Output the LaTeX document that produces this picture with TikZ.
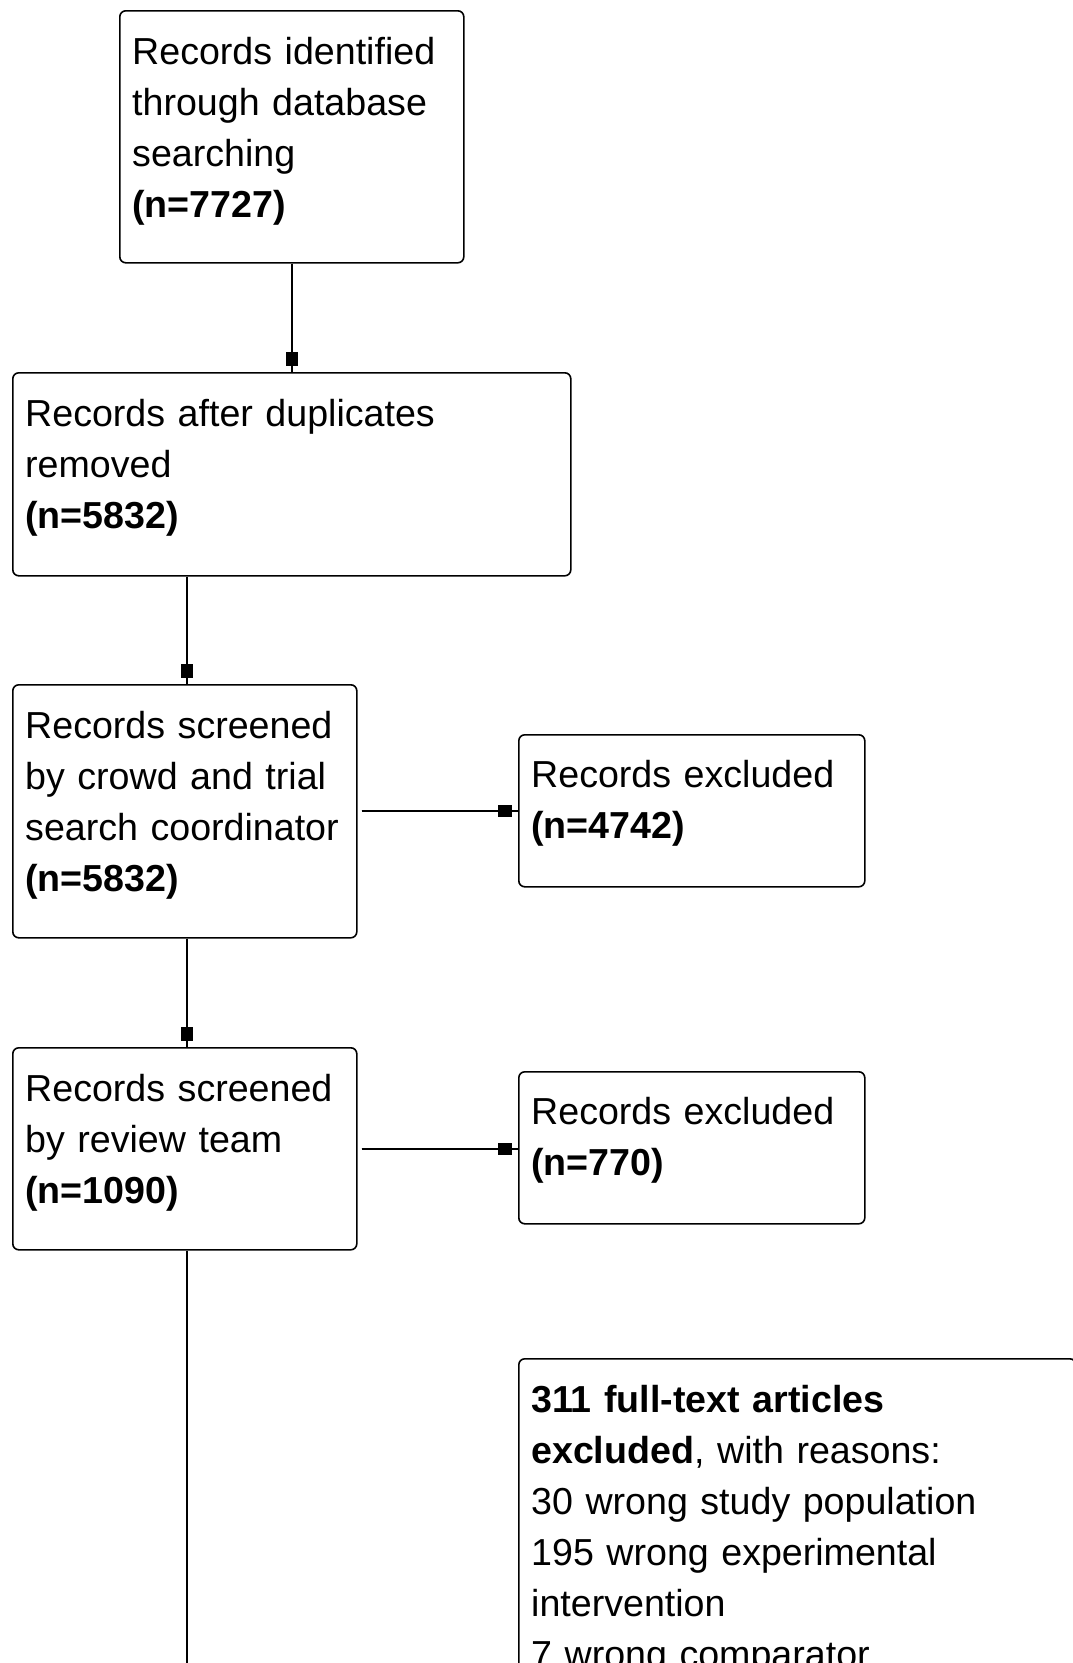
\documentclass[tikz,border=0pt]{standalone}
\usepackage{fontspec}
\setmainfont{Liberation Sans}
\usetikzlibrary{arrows.meta,calc}
\begin{document}
\begin{tikzpicture}[x=1pt,y=-1pt,
  box/.style={draw=black, line width=1.6pt, rounded corners=6pt, anchor=north west, inner sep=0pt},
  txt/.style={anchor=base west, inner sep=0pt, align=left, text width=600pt, font=\fontsize{37.6}{51}\selectfont, text=black},
  conn/.style={line width=1.8pt, draw=black, -{Rectangle[length=14pt,width=12pt,sep=6pt]}, postaction={draw, -}},
  plain/.style={line width=1.8pt, draw=black}
]
\useasboundingbox (0,0) rectangle (1073,1663);
\clip (0,0) rectangle (1073,1663);

\node[box, minimum width=344pt, minimum height=252pt] (b1) at (119,10) {};
\node[txt] (t1) at ($(b1.north west)+(13,54)$) {Records identified\\through database\\searching\\{\bfseries (n=7727)}};

\node[box, minimum width=558pt, minimum height=203pt] (b2) at (12,372) {};
\node[txt] (t2) at ($(b2.north west)+(13,54)$) {Records after duplicates\\removed\\{\bfseries (n=5832)}};

\node[box, minimum width=344pt, minimum height=253pt] (b3) at (12,684) {};
\node[txt] (t3) at ($(b3.north west)+(13,54)$) {Records screened\\by crowd and trial\\search coordinator\\{\bfseries (n=5832)}};

\node[box, minimum width=346pt, minimum height=152pt] (r1) at (518,734) {};
\node[txt] (tr1) at ($(r1.north west)+(13,53)$) {Records excluded\\{\bfseries (n=4742)}};

\node[box, minimum width=344pt, minimum height=202pt] (b4) at (12,1047) {};
\node[txt] (t4) at ($(b4.north west)+(13,54)$) {Records screened\\by review team\\{\bfseries (n=1090)}};

\node[box, minimum width=346pt, minimum height=152pt] (r2) at (518,1071) {};
\node[txt] (tr2) at ($(r2.north west)+(13,53)$) {Records excluded\\{\bfseries (n=770)}};

\node[box, minimum width=557pt, minimum height=420pt] (r3) at (518,1358) {};
\node[txt] (tr3) at ($(r3.north west)+(13,54)$) {{\bfseries 311 full-text articles}\\{\bfseries excluded}, with reasons:\\30 wrong study population\\195 wrong experimental\\intervention\\7 wrong comparator};

\coordinate (end4) at ($(b4.south)+(0,500)$);

\draw[conn] (b1.south) -- (b2.north);
\draw[conn] ($(b3.north |- b2.south)+(2,0)$) -- ($(b3.north)+(2,0)$);
\draw[conn, shorten <=4pt] (b3.east) -- (r1.west |- b3.east);
\draw[conn] ($(b3.south)+(2,0)$) -- ($(b4.north)+(2,0)$);
\draw[conn, shorten <=4pt] (b4.east) -- (r2.west |- b4.east);
\draw[plain] ($(b4.south)+(2,0)$) -- ($(end4)+(2,0)$);
\end{tikzpicture}
\end{document}
